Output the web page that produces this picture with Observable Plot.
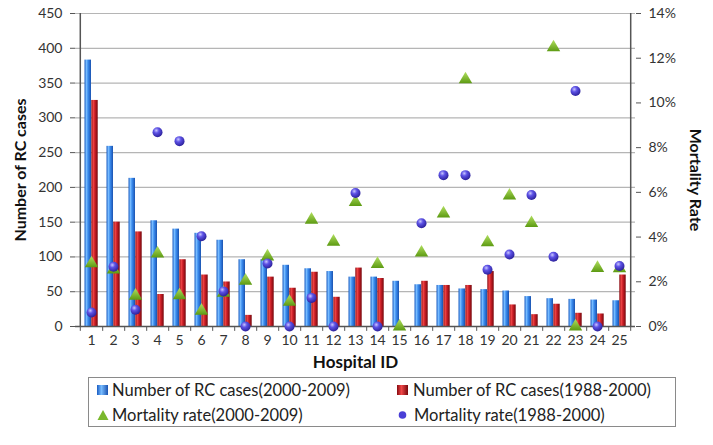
<!DOCTYPE html>
<html>
<head>
<meta charset="utf-8">
<script src="https://cdn.jsdelivr.net/npm/d3@7"></script>
<script src="https://cdn.jsdelivr.net/npm/@observablehq/plot@0.6"></script>
<style>
  body { margin: 0; background: #fff; font-family: Lato, "Open Sans", sans-serif; }
  #chart { position: relative; width: 713px; height: 445px; }
  #legend {
    position: absolute; left: 88px; top: 377px; width: 588px; height: 50px;
    border: 1px solid #8a8a8a; box-sizing: border-box;
    font-family: Lato, sans-serif; font-size: 16.5px; color: #222;
  }
  .item { position: absolute; height: 20px; line-height: 20px; white-space: nowrap; }
  .item svg { position: absolute; top: 50%; transform: translateY(-50%); }
  .item span { position: absolute; top: 0; }
</style>
</head>
<body>
<div id="chart"></div>
<script>
const hospitals = [1,2,3,4,5,6,7,8,9,10,11,12,13,14,15,16,17,18,19,20,21,22,23,24,25];
const cases2000 = [383,259,213,152,140,134,124,96,96,88,83,79,71,71,65,60,59,54,53,51,43,40,39,38,37];
const cases1988 = [325,150,136,46,96,74,64,16,71,55,78,42,84,69,0,65,59,59,79,31,17,32,19,18,74];
const mortality2000 = [2.82,2.55,1.37,3.26,1.39,0.70,1.50,2.04,3.13,1.10,4.77,3.79,5.56,2.79,0,3.30,5.05,11.05,3.76,5.85,4.62,12.48,0,2.61,2.60];
const mortality1988 = [0.63,2.67,0.75,8.69,8.29,4.04,1.57,0,2.82,0,1.28,0,5.97,0,null,4.62,6.77,6.77,2.54,3.22,5.88,3.12,10.53,0,2.71];
const countTicks = [0,50,100,150,200,250,300,350,400,450];
const rateTicks = [0,2,4,6,8,10,12,14];
const seriesNames = ["Number of RC cases(2000-2009)","Number of RC cases(1988-2000)","Mortality rate(2000-2009)","Mortality rate(1988-2000)"];

const countMax = 450, rateMax = 14;
const k = countMax / rateMax;
const rows = hospitals.map((h, i) => ({h, a: cases2000[i], b: cases1988[i], m1: mortality2000[i], m2: mortality1988[i]}));

function defs() {
  const d = d3.create("svg:defs");
  const lin = (id, stops, vertical) => {
    const g = d.append("linearGradient").attr("id", id)
      .attr("x1", 0).attr("y1", 0).attr("x2", vertical ? 0 : 1).attr("y2", vertical ? 1 : 0);
    stops.forEach(([o, c]) => g.append("stop").attr("offset", o).attr("stop-color", c));
  };
  lin("gBlue", [[0,"#1a5cc2"],[0.3,"#78bcff"],[0.55,"#3a8cef"],[1,"#1a52b0"]]);
  lin("gRed", [[0,"#860910"],[0.3,"#f04848"],[0.55,"#cc1f27"],[1,"#76070c"]]);
  lin("gGreen", [[0,"#b2e060"],[1,"#5c9a12"]], true);
  const r = d.append("radialGradient").attr("id", "gPurple").attr("cx", 0.38).attr("cy", 0.32).attr("r", 0.75);
  [[0,"#c9c6ff"],[0.35,"#5d52e6"],[1,"#251a90"]].forEach(([o, c]) => r.append("stop").attr("offset", o).attr("stop-color", c));
  return d.node();
}

const half = 11.2;
const plot = Plot.plot({
  width: 713, height: 372,
  marginLeft: 75, marginRight: 78, marginTop: 13, marginBottom: 46,
  x: {type: "band", domain: hospitals, padding: 0},
  y: {domain: [0, countMax]},
  style: {fontFamily: "Lato, sans-serif", fontSize: "14px", color: "#333", background: "transparent"},
  marks: [
    defs,
    Plot.gridY(countTicks.slice(1), {stroke: "#b5b5b5", strokeOpacity: 1, strokeWidth: 1.2}),
    Plot.barY(rows, {x: "h", y: "a", fill: "url(#gBlue)", insetLeft: 4.5, insetRight: 11}),
    Plot.barY(rows, {x: "h", y: "b", fill: "url(#gRed)", insetLeft: 11.3, insetRight: 4.3}),
    Plot.ruleY([0], {stroke: "#555", strokeWidth: 1.3}),
    Plot.ruleX([hospitals[0]], {x: d => d, dx: -half, y1: 0, y2: countMax, stroke: "#555", strokeWidth: 1.5}),
    Plot.ruleX([hospitals[hospitals.length - 1]], {x: d => d, dx: half, y1: 0, y2: countMax, stroke: "#555", strokeWidth: 1.5}),
    Plot.ruleX(hospitals, {x: d => d, dx: half, y1: 0, y2: -7, stroke: "#555"}),
    Plot.ruleX([hospitals[0]], {x: d => d, dx: -half, y1: 0, y2: -7, stroke: "#555"}),
    Plot.axisY(countTicks, {anchor: "left", tickSize: 5, tickPadding: 8, label: null, stroke: "#555"}),
    Plot.axisY(rateTicks.map(v => v * k), {anchor: "right", tickSize: 5, tickPadding: 8, label: null, stroke: "#555",
      tickFormat: v => Math.round(v / k) + "%"}),
    Plot.axisX({tickSize: 0, tickPadding: 9, label: null}),
    Plot.dot(rows.filter(d => d.m1 != null), {x: "h", y: d => d.m1 * k, symbol: "triangle", r: 5, fill: "url(#gGreen)"}),
    Plot.dot(rows.filter(d => d.m2 != null), {x: "h", y: d => d.m2 * k, r: 5, fill: "url(#gPurple)"}),
    Plot.text(["Hospital ID"], {text: d => d, frameAnchor: "bottom", textAnchor: "middle", lineAnchor: "middle", dy: 36, fontWeight: "bold", fontSize: 17, fill: "#111"}),
    Plot.text(["Number of RC cases"], {text: d => d, frameAnchor: "left", textAnchor: "middle", lineAnchor: "middle", rotate: -90, dx: -55, fontWeight: "bold", fontSize: 16, fill: "#111"}),
    Plot.text(["Mortality Rate"], {text: d => d, frameAnchor: "right", textAnchor: "middle", lineAnchor: "middle", rotate: 90, dx: 60, dy: 10, fontWeight: "bold", fontSize: 16, fill: "#111"})
  ]
});
const chart = document.getElementById("chart");
chart.appendChild(plot);

const legend = document.createElement("div");
legend.id = "legend";
const icons = [
  `<svg width="11" height="10"><defs><linearGradient id="lb" x1="0" x2="1"><stop offset="0" stop-color="#1a5cc2"/><stop offset="0.4" stop-color="#78bcff"/><stop offset="1" stop-color="#1a52b0"/></linearGradient></defs><rect width="11" height="10" fill="url(#lb)"/></svg>`,
  `<svg width="11" height="10"><defs><linearGradient id="lr" x1="0" x2="1"><stop offset="0" stop-color="#860910"/><stop offset="0.4" stop-color="#f04848"/><stop offset="1" stop-color="#76070c"/></linearGradient></defs><rect width="11" height="10" fill="url(#lr)"/></svg>`,
  `<svg width="12" height="11"><path d="M6,0.5L11.5,10.5L0.5,10.5Z" fill="#7ab82c"/></svg>`,
  `<svg width="9" height="9"><circle cx="4.5" cy="4.5" r="3.8" fill="#4a3fd6"/></svg>`
];
const pos = [[8, 2], [308, 2], [8, 27], [309, 27]];
seriesNames.forEach((name, i) => {
  const it = document.createElement("div");
  it.className = "item";
  it.style.left = pos[i][0] + "px";
  it.style.top = pos[i][1] + "px";
  it.innerHTML = icons[i] + `<span style="left:${i % 2 ? 16 : 15}px">${name}</span>`;
  legend.appendChild(it);
});
chart.appendChild(legend);
</script>
</body>
</html>
